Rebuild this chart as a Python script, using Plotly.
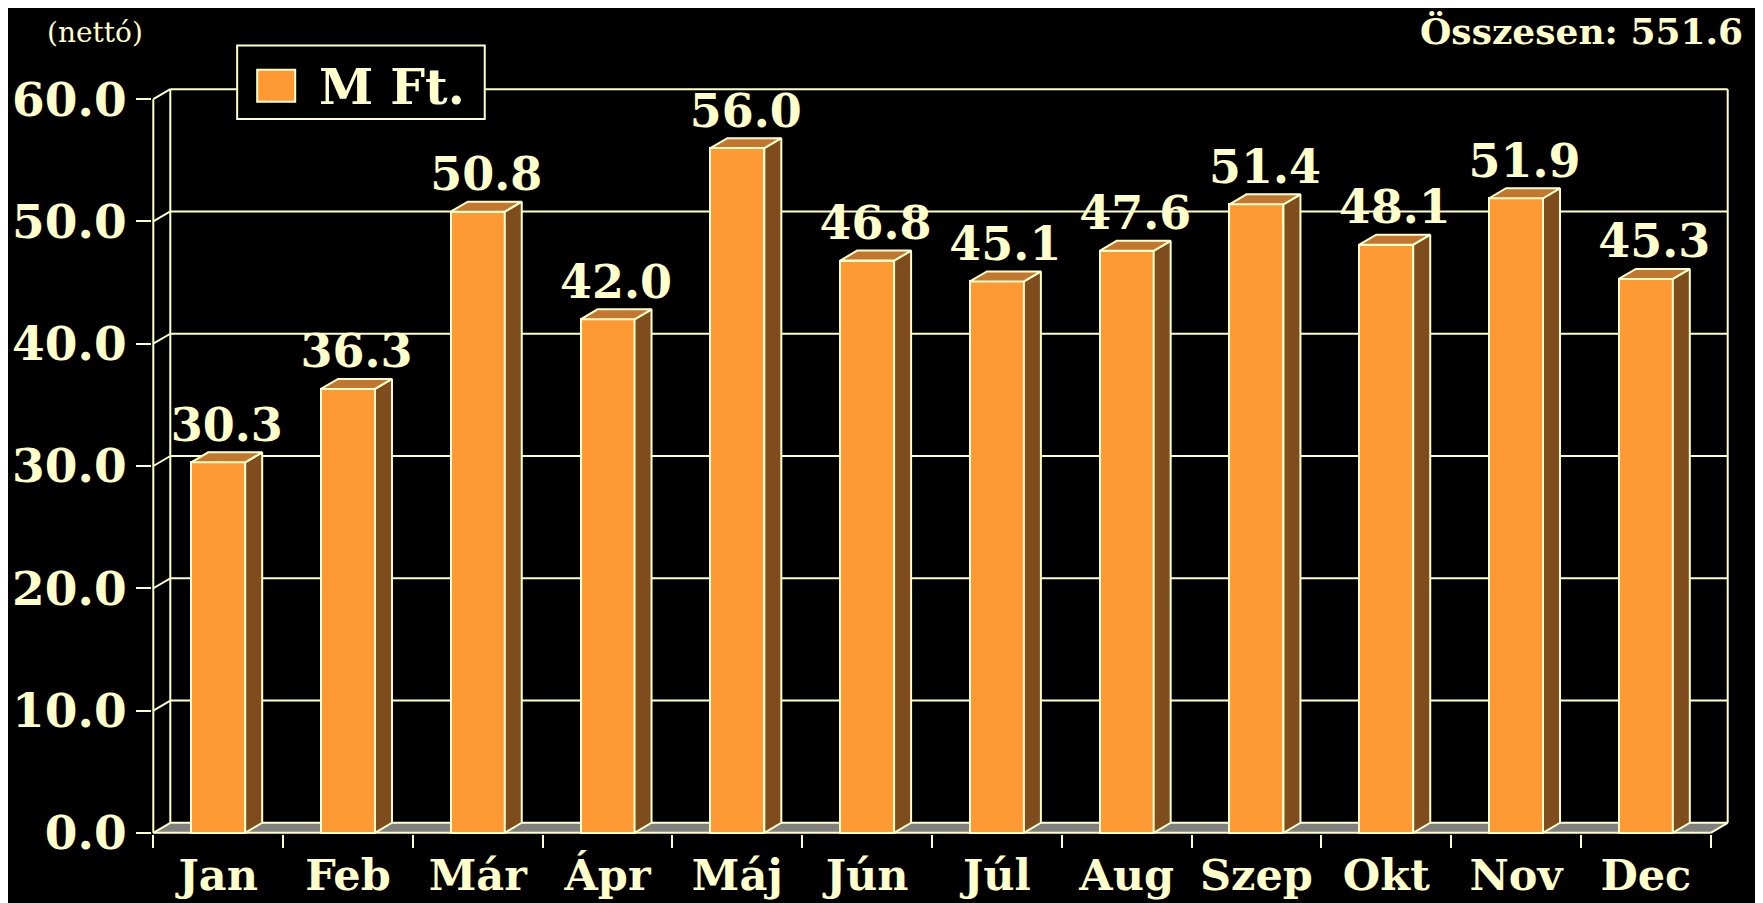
import plotly.graph_objects as go

months = ["Jan", "Feb", "Már", "Ápr", "Máj", "Jún", "Júl", "Aug", "Szep", "Okt", "Nov", "Dec"]
values = [30.3, 36.3, 50.8, 42.0, 56.0, 46.8, 45.1, 47.6, 51.4, 48.1, 51.9, 45.3]
y_ticks = [0, 10, 20, 30, 40, 50, 60]
series_name = "M Ft."
total_text = "Összesen: 551.6"
unit_text = "(nettó)"

CREAM = "#FFFFCC"
ORANGE = "#FF9933"
SIDE = "#7F4C1E"
TOP = "#C27630"
FLOOR = "#808080"
FONT = "DejaVu Serif"

# pseudo-3D depth (in data units)
DX = 0.131
DY = 0.817
BW = 0.416
n = len(months)
xs = list(range(n))
x_left, x_right = -0.5, n - 0.5
ymax = max(y_ticks)

fig = go.Figure()

shapes = []
# floor
shapes.append(dict(type="path", xref="x", yref="y", layer="below",
                   path=f"M {x_left},0 L {x_right},0 L {x_right+DX},{DY} L {x_left+DX},{DY} Z",
                   fillcolor=FLOOR, line=dict(width=0)))
line_style = dict(color=CREAM, width=2)
# back wall grid + left diagonals
for v in y_ticks:
    shapes.append(dict(type="line", xref="x", yref="y", layer="below",
                       x0=x_left, y0=v, x1=x_left + DX, y1=v + DY, line=line_style))
    shapes.append(dict(type="line", xref="x", yref="y", layer="below",
                       x0=x_left + DX, y0=v + DY, x1=x_right + DX, y1=v + DY, line=line_style))
# wall verticals
shapes.append(dict(type="line", xref="x", yref="y", layer="below",
                   x0=x_left + DX, y0=DY, x1=x_left + DX, y1=ymax + DY, line=line_style))
shapes.append(dict(type="line", xref="x", yref="y", layer="below",
                   x0=x_right + DX, y0=DY, x1=x_right + DX, y1=ymax + DY, line=line_style))
# front axis and floor edges
shapes.append(dict(type="line", xref="x", yref="y", layer="below",
                   x0=x_left, y0=0, x1=x_left, y1=ymax, line=line_style))
shapes.append(dict(type="line", xref="x", yref="y", layer="below",
                   x0=x_left, y0=0, x1=x_right, y1=0, line=line_style))
shapes.append(dict(type="line", xref="x", yref="y", layer="below",
                   x0=x_right, y0=0, x1=x_right + DX, y1=DY, line=line_style))

# front faces
fig.add_trace(go.Bar(x=xs, y=values, width=BW, name=series_name,
                     marker=dict(color=ORANGE, line=dict(color=CREAM, width=2)),
                     showlegend=False, hoverinfo="skip"))

# side and top faces
sx, sy = [], []
tx, ty = [], []
for x, v in zip(xs, values):
    r = x + BW / 2
    l = x - BW / 2
    sx += [r, r + DX, r + DX, r, r, None]
    sy += [0, DY, v + DY, v, 0, None]
    tx += [l, r, r + DX, l + DX, l, None]
    ty += [v, v, v + DY, v + DY, v, None]
fig.add_trace(go.Scatter(x=sx, y=sy, mode="lines", fill="toself", fillcolor=SIDE,
                         line=dict(color=CREAM, width=2), showlegend=False, hoverinfo="skip"))
fig.add_trace(go.Scatter(x=tx, y=ty, mode="lines", fill="toself", fillcolor=TOP,
                         line=dict(color=CREAM, width=2), showlegend=False, hoverinfo="skip"))

# value labels
fig.add_trace(go.Scatter(x=[x + DX / 2 for x in xs], y=[v + DY for v in values],
                         mode="text", text=[f"{v:.1f}" for v in values],
                         textposition="top center", cliponaxis=False,
                         textfont=dict(family=FONT, size=46, color=CREAM, weight="bold"),
                         showlegend=False, hoverinfo="skip"))

# manual legend
shapes.append(dict(type="rect", xref="paper", yref="paper", layer="above",
                   x0=0.0540, x1=0.2110, y0=0.9585, y1=1.0570,
                   fillcolor="black", line=dict(color=CREAM, width=2)))
shapes.append(dict(type="rect", xref="paper", yref="paper", layer="above",
                   x0=0.0667, x1=0.0908, y0=0.9815, y1=1.0245,
                   fillcolor=ORANGE, line=dict(color=CREAM, width=2)))

annotations = [
    dict(text=series_name, xref="paper", yref="paper", x=0.1045, y=1.0015,
         xanchor="left", yanchor="middle", showarrow=False,
         font=dict(family=FONT, size=49, color=CREAM, weight="bold")),
    dict(text=total_text, xref="paper", yref="paper", x=1, y=1,
         xanchor="right", yanchor="middle", xshift=16, yshift=57, showarrow=False,
         font=dict(family=FONT, size=36, color=CREAM, weight="bold")),
    dict(text=unit_text, xref="paper", yref="paper", x=0, y=1,
         xanchor="center", yanchor="middle", xshift=-57, yshift=56, showarrow=False,
         font=dict(family=FONT, size=28, color=CREAM)),
]

fig.update_layout(
    width=1755, height=895, autosize=False,
    margin=dict(l=144, r=34, t=80, b=69, pad=0, autoexpand=False),
    paper_bgcolor="black", plot_bgcolor="black",
    shapes=shapes, annotations=annotations,
    bargap=0, showlegend=False,
)
fig.update_xaxes(
    range=[x_left - 0.01, x_right + DX + 0.01],
    tickmode="array", tickvals=xs, ticktext=months,
    ticks="", showgrid=False, zeroline=False, showline=False,
    ticklabelstandoff=12, automargin=False,
    tickfont=dict(family=FONT, size=43, color=CREAM, weight="bold"),
    minor=dict(tickmode="array", tickvals=[x_left + i for i in range(n + 1)],
               ticks="outside", ticklen=13, tickwidth=2, tickcolor=CREAM, showgrid=False),
    fixedrange=True,
)
fig.update_yaxes(
    range=[-0.1, ymax + DY + 0.1],
    tickmode="array", tickvals=y_ticks, tickformat=".1f",
    ticks="outside", ticklen=15, tickwidth=2, tickcolor=CREAM,
    showgrid=False, zeroline=False, showline=False, automargin=False,
    tickfont=dict(family=FONT, size=47, color=CREAM, weight="bold"),
    fixedrange=True,
)

fig.write_html("out.html")
